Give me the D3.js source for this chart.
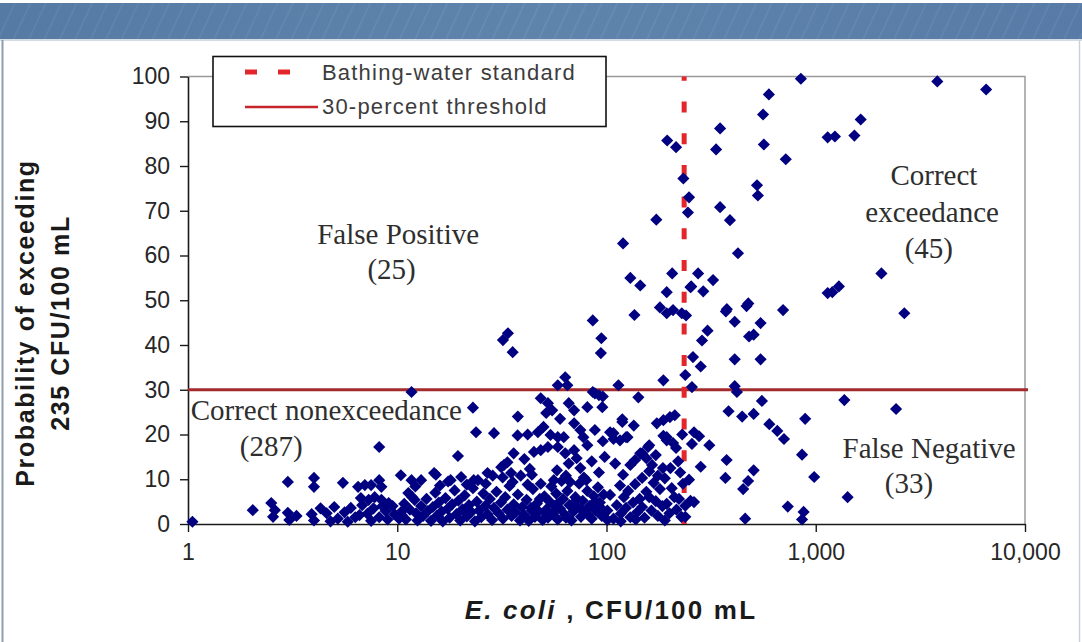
<!DOCTYPE html>
<html>
<head>
<meta charset="utf-8">
<script src="https://cdn.jsdelivr.net/npm/d3@7"></script>
<style>
    body { margin: 0; background: #ffffff; }
    svg { display: block; }
</style>
</head>
<body>
<svg id="chart" width="1082" height="642"></svg>
<script>

/**
 * Data: [E. coli (CFU/100 mL), probability of exceeding 235 CFU/100 mL (%)]
 */
var falsePositive = [
    [33.8, 42.6], [32, 41.1], [35.6, 38.4], [86, 45.5], [94.5, 41.5], [94, 38.2], [120, 62.7],
    [130, 55], [136, 46.7], [145, 53.3], [173, 68], [180, 48.4], [194, 51.8], [194, 47.1],
    [208, 47.8], [195, 85.7], [215, 84.2], [229, 47.1], [63.5, 32.8], [58.5, 31], [65, 31],
    [187, 32.1], [114, 31], [206, 56], [233, 77.2]
];

var correctExceedance = [
    [849, 99.5], [597, 96], [560, 91.5], [349, 88.4], [334, 83.7], [565, 84.8], [719, 81.5],
    [524, 75.7], [529, 73.4], [248, 73], [245, 69.6], [349, 70.8], [389, 67.9], [425, 60.5],
    [274, 56], [323, 54.5], [254, 53.1], [290, 52], [252, 52.9], [376, 48], [476, 49.3],
    [698, 47.8], [1140, 86.4], [1140, 51.6], [3810, 98.9], [6520, 97.1], [1640, 90.4],
    [1235, 86.6], [1530, 86.8], [2060, 56], [1200, 51.8], [1290, 53.1], [2650, 47.1],
    [259, 37.3], [238, 33.3], [256, 30.6], [304, 43.2], [286, 41], [372, 47.5], [410, 45.2],
    [545, 44.9], [505, 42.3], [480, 41.9], [410, 36.8], [545, 36.8], [410, 30.8], [282, 35.2],
    [240, 46.6], [467, 48.7]
];

var falseNegative = [
    [1370, 27.7], [2420, 25.7], [553, 27.5], [383, 25.2], [445, 24], [505, 24.6], [890, 23.5],
    [600, 22.3], [655, 20.8], [705, 19], [860, 15.5], [983, 10.5], [1420, 6], [735, 3.9],
    [875, 2.7], [860, 1], [460, 1.2], [375, 14.3], [370, 10.3], [450, 7.8], [475, 9.6],
    [505, 12], [282, 12.8], [262, 20.5], [277, 19.6], [310, 17.6], [256, 17.9], [248, 9.9],
    [252, 5.2], [238, 4.1], [262, 4.9], [238, 1.6], [420, 29.5]
];

var correctNonexceedance = [
    // 1 - 12
    [1.05, 0.5], [2.04, 3.1], [2.5, 4.7], [2.6, 3.1], [2.55, 1.6], [3.0, 9.4], [3.0, 2.5],
    [3.05, 0.9], [3.3, 1.8], [4.0, 10.3], [4.0, 8.3], [3.9, 2.2], [4.0, 0.8], [4.3, 3.5],
    [4.6, 2.4], [4.8, 0.6], [5.0, 3.8], [5.2, 1.2], [5.5, 9.2], [5.6, 2.6], [5.8, 0.5],
    [6.0, 3.6], [6.3, 1.5], [6.5, 8.3], [6.6, 2.0], [6.7, 5.8], [6.8, 4.2], [7.0, 8.7],
    [7.2, 2.3], [7.3, 5.4], [7.5, 8.7], [7.5, 0.7], [7.7, 3.5], [7.8, 6.0], [8.2, 1.5],
    [8.2, 9.8], [8.2, 17.2], [8.4, 8.3], [8.4, 5.4], [8.5, 4.0], [8.8, 2.9], [9.0, 1.0],
    [9.1, 4.7], [9.5, 4.0], [9.7, 2.2], [10.2, 1.2], [10.4, 10.9], [10.6, 3.0], [11.3, 6.9],
    [11.7, 9.8], [11.7, 29.5], [12.1, 5.4],
    // 10 - 40
    [10.5, 2.0], [10.8, 4.5], [11, 1.0], [11.5, 3.2], [11.8, 6.0], [12.3, 2.4], [12.5, 0.8],
    [13, 4.0], [13.3, 1.8], [13.8, 5.6], [14, 2.9], [14.5, 0.7], [14.8, 3.8], [15.2, 7.0],
    [15.5, 1.9], [15.8, 4.8], [16.3, 2.8], [16.5, 0.6], [17, 5.8], [17.4, 3.4], [17.8, 1.4],
    [18.3, 4.4], [18.8, 7.5], [19.2, 2.2], [19.6, 5.2], [20, 0.8], [20.5, 3.3], [21, 6.4],
    [21.5, 1.7], [22, 4.2], [22.6, 2.7], [23, 8.0], [23.5, 0.6], [24, 5.0], [24.6, 3.0],
    [25.2, 1.5], [25.8, 6.8], [26.4, 4.1], [27, 2.2], [27.7, 5.6], [28.4, 0.9], [29, 3.6],
    [29.8, 7.2], [30.5, 2.4], [31.3, 4.8], [32, 1.2], [32.8, 6.0], [33.6, 3.2], [34.4, 8.5],
    [35.2, 1.8], [36, 4.4], [36.8, 2.6], [37.7, 6.6], [38.6, 0.8], [39.5, 3.8],
    [13, 9.8], [15.3, 11], [17.5, 9.5], [20.2, 10.5], [23.2, 9.8], [28.6, 10.8], [31.9, 10.4],
    [35, 11.4], [38.9, 10.8], [35.6, 9.4], [15, 11.4], [18, 9.8], [24.3, 9.8], [27, 11.4],
    [31.4, 12.7], [33.6, 13.8], [36, 15.8], [19.5, 15.2], [32.4, 13.2], [23, 26], [37.7, 24],
    [23.8, 20.5], [29, 20.3], [37.6, 19.8], [16, 8.6], [21.5, 8.8], [26.5, 9], [12.2, 8.4],
    // 40 - 100
    [40.5, 2.0], [41.5, 5.4], [42.5, 0.7], [43.5, 3.6], [44.5, 7.8], [45.5, 1.6], [46.5, 4.6],
    [47.5, 2.8], [48.5, 9.0], [49.5, 0.9], [50.5, 6.2], [51.5, 3.2], [52.5, 1.4], [53.5, 5.0],
    [54.5, 8.4], [55.5, 2.4], [56.5, 4.0], [57.5, 6.8], [58.5, 1.0], [60, 3.4], [61, 9.6],
    [62, 5.6], [63.5, 2.0], [65, 7.4], [66.5, 4.2], [68, 0.8], [69.5, 2.8], [71, 6.0],
    [72.5, 3.8], [74, 9.0], [75.5, 1.6], [77, 5.2], [79, 2.6], [81, 7.4], [83, 4.0], [85, 1.2],
    [87, 6.2], [89, 3.0], [91, 8.2], [93, 4.8], [95, 1.8], [97, 6.6],
    [44, 3.0], [48, 5.6], [52, 2.2], [58, 4.4], [64, 1.4], [70, 4.8], [76, 3.2], [82, 2.0],
    [88, 5.0], [94, 3.6], [42, 8.8], [56, 9.8], [67, 9.4], [80, 9.8],
    [40.5, 14.5], [43, 12.3], [45, 16.1], [48.5, 16.5], [52.5, 17.2], [58.5, 17.2],
    [63.5, 15.8], [70, 16.5], [81, 17.6], [47, 20.5], [50, 21.7], [54, 19.9], [58.5, 19.4],
    [62.5, 19.4], [70, 22.5], [75, 21], [77.5, 19.4], [48.5, 28.1], [52.5, 27], [51.5, 24.8],
    [55, 25.4], [66, 27], [70, 25.4], [81, 26.1], [95.5, 26.1], [86, 29.5], [92, 28.8],
    [58, 12], [66, 13.5], [75, 12.5], [85, 14], [92, 11.5], [98, 15], [44, 11], [88, 21],
    [96, 18.5], [60, 23.5], [42, 20], [72, 14.7], [64, 10.8], [78, 10.4],
    // 100 - 235
    [101, 3.0], [104, 6.5], [108, 1.2], [112, 4.2], [116, 8.6], [117, 2.3], [121, 6.0],
    [124, 3.6], [127, 7.4], [130, 1.5], [134, 4.8], [137, 8.9], [140, 2.6], [144, 5.6],
    [148, 3.8], [148, 10.3], [152, 1.4], [155, 7.2], [160, 6.0], [160, 11.8], [164, 3.0],
    [168, 9.2], [172, 5.1], [176, 1.8], [180, 7.8], [185, 4.0], [190, 10.2], [194, 4.5],
    [200, 2.4], [205, 8.0], [211, 6.0], [216, 3.2], [222, 5.6], [228, 1.6], [232, 9.0],
    [117, 0.6], [96, 2.2], [101, 0.9], [138, 1.0], [190, 0.8],
    [104, 20.5], [108, 19], [124, 19.4], [119, 23.4], [108, 20.3], [116, 18.7], [126, 19.4],
    [119, 22.8], [174, 22.5], [187, 23.2], [201, 23.9], [212, 24.3], [194, 19.4], [208, 18.1],
    [158, 17.2], [145, 15.8], [137, 14.3], [130, 13.2], [160, 17.6], [148, 15.8], [155, 14.7],
    [172, 15.4], [165, 13.2], [186, 12.5], [202, 12.5], [187, 19.7], [194, 18.7], [142, 28.3],
    [88, 29.2], [96, 28.5], [120, 11], [176, 10.8], [220, 14], [225, 11.5], [230, 20],
    [110, 13.5], [135, 22], [215, 17]
];

var xTicks = [1, 10, 100, 1000, 10000];
var yTicks = [0, 10, 20, 30, 40, 50, 60, 70, 80, 90, 100];

var bathingStandard = 235;   // CFU/100 mL
var thresholdPct = 30;       // percent

var legendLabels = ["Bathing-water standard", "30-percent threshold"];
var xTitle = ["E. coli", " , CFU/100 mL"];
var yTitle = ["Probability of exceeding", "235 CFU/100 mL"];

// quadrant captions, counts as printed on the original
var labelFalsePositive = ["False Positive", "(25)"];
var labelCorrectExceedance = ["Correct", "exceedance", "(45)"];
var labelCorrectNonexceedance = ["Correct nonexceedance", "(287)"];
var labelFalseNegative = ["False Negative", "(33)"];

var svg = d3.select("#chart");

var x = d3.scaleLog().domain([1, 10000]).range([188, 1025]);
var y = d3.scaleLinear().domain([0, 100]).range([524, 76.5]);

/**
 * Slide header band across the top
 */
function drawHeader(svg) {
    var defs = svg.append("defs");

    var grad = defs.append("linearGradient")
        .attr("id", "band")
        .attr("x1", 0).attr("x2", 1).attr("y1", 0).attr("y2", 0);
    grad.append("stop").attr("offset", "0%").attr("stop-color", "#557aa4");
    grad.append("stop").attr("offset", "50%").attr("stop-color", "#5f84ac");
    grad.append("stop").attr("offset", "100%").attr("stop-color", "#577ba6");

    var pat = defs.append("pattern")
        .attr("id", "rain")
        .attr("width", 14).attr("height", 14)
        .attr("patternUnits", "userSpaceOnUse")
        .attr("patternTransform", "rotate(25)");
    pat.append("line")
        .attr("x1", 0).attr("y1", 0).attr("x2", 0).attr("y2", 14)
        .attr("stroke", "#ffffff").attr("stroke-opacity", 0.07).attr("stroke-width", 3);

    svg.append("rect")
        .attr("x", 0).attr("y", 3).attr("width", 1082).attr("height", 36)
        .attr("fill", "url(#band)");
    svg.append("rect")
        .attr("x", 0).attr("y", 3).attr("width", 1082).attr("height", 36)
        .attr("fill", "url(#rain)");

    svg.append("rect")
        .attr("x", 0).attr("y", 39).attr("width", 1082).attr("height", 2)
        .attr("fill", "#d3dce6");

    // side rules of the slide frame
    svg.append("line")
        .attr("x1", 2.5).attr("x2", 2.5).attr("y1", 40).attr("y2", 642)
        .attr("stroke", "#8f9cab").attr("stroke-width", 2);
    svg.append("line")
        .attr("x1", 1079.5).attr("x2", 1079.5).attr("y1", 40).attr("y2", 642)
        .attr("stroke", "#c9d1da").attr("stroke-width", 1.5);
}

/**
 * Axes, tick labels, plot frame
 */
function drawAxes(svg) {
    // frame top and right
    svg.append("path")
        .attr("d", "M" + x(1) + "," + y(100) + "H" + x(10000) + "V" + y(0))
        .attr("fill", "none")
        .attr("stroke", "#9a9a9a")
        .attr("stroke-width", 1.5);

    var gx = svg.append("g")
        .attr("transform", "translate(0," + y(0) + ")")
        .call(d3.axisBottom(x)
            .tickValues(xTicks)
            .tickFormat(d3.format(","))
            .tickSize(8)
            .tickSizeOuter(0)
            .tickPadding(12));

    var gy = svg.append("g")
        .attr("transform", "translate(" + x(1) + ",0)")
        .call(d3.axisLeft(y)
            .tickValues(yTicks)
            .tickFormat(d3.format("d"))
            .tickSize(8)
            .tickSizeOuter(0)
            .tickPadding(10));

    [gx, gy].forEach(function (g) {
        g.select(".domain").attr("stroke", "#1a1a1a").attr("stroke-width", 1.6);
        g.selectAll(".tick line").attr("stroke", "#1a1a1a").attr("stroke-width", 1.4);
        g.selectAll(".tick text")
            .style("font-family", "'Liberation Sans', Arial, sans-serif")
            .style("font-size", "23px")
            .style("fill", "#262626");
    });

    // x title
    var xt = svg.append("text")
        .attr("x", 611)
        .attr("y", 619)
        .attr("text-anchor", "middle")
        .style("font-family", "'Liberation Sans', Arial, sans-serif")
        .style("font-size", "26px")
        .style("font-weight", "bold")
        .style("letter-spacing", "2.2px")
        .style("fill", "#1a1a1a");
    xt.append("tspan").style("font-style", "italic").text(xTitle[0]);
    xt.append("tspan").text(xTitle[1]);

    // y title, two lines
    svg.selectAll(".ytitle")
        .data(yTitle)
        .enter()
        .append("text")
        .attr("class", "ytitle")
        .attr("transform", function (d, i) { return "translate(" + (34 + i * 35) + ",323) rotate(-90)"; })
        .attr("text-anchor", "middle")
        .style("font-family", "'Liberation Sans', Arial, sans-serif")
        .style("font-size", "25px")
        .style("font-weight", "bold")
        .style("letter-spacing", "1.6px")
        .style("fill", "#1a1a1a")
        .text(function (d) { return d; });
}

/**
 * Reference lines: bathing-water standard and 30-percent threshold
 */
function drawReferenceLines(svg) {
    svg.append("line")
        .attr("x1", x(1)).attr("x2", x(10000) + 3)
        .attr("y1", y(thresholdPct)).attr("y2", y(thresholdPct))
        .attr("stroke", "#a42b2d")
        .attr("stroke-width", 3);

    svg.append("line")
        .attr("x1", x(bathingStandard)).attr("x2", x(bathingStandard))
        .attr("y1", y(100)).attr("y2", y(0))
        .attr("stroke", "#e3262b")
        .attr("stroke-width", 5)
        .attr("stroke-dasharray", "11,20.7")
        .attr("stroke-dashoffset", 6.7);
}

/**
 * Draw the diamonds
 */
function drawPoints(svg, data) {
    var diamond = d3.symbol().type(d3.symbolSquare).size(74);

    svg.append("g")
        .attr("class", "points")
        .selectAll("path")
        .data(data)
        .enter()
        .append("path")
        .attr("d", diamond)
        .attr("transform", function (d) {
            return "translate(" + x(d[0]) + "," + y(d[1]) + ") rotate(45)";
        })
        .attr("fill", "#000080");
}

/**
 * Legend box in the upper left
 */
function drawLegend(svg) {
    var g = svg.append("g").attr("class", "legend");

    g.append("rect")
        .attr("x", 213).attr("y", 56.5)
        .attr("width", 393).attr("height", 70)
        .attr("fill", "#ffffff")
        .attr("stroke", "#111111")
        .attr("stroke-width", 1.6);

    g.append("line")
        .attr("x1", 245).attr("x2", 294)
        .attr("y1", 72).attr("y2", 72)
        .attr("stroke", "#e3262b")
        .attr("stroke-width", 5)
        .attr("stroke-dasharray", "12,21");

    g.append("line")
        .attr("x1", 245).attr("x2", 318)
        .attr("y1", 107).attr("y2", 107)
        .attr("stroke", "#c4262c")
        .attr("stroke-width", 2.5);

    g.selectAll("text")
        .data(legendLabels)
        .enter()
        .append("text")
        .attr("x", 322)
        .attr("y", function (d, i) { return 80 + i * 34; })
        .style("font-family", "'Liberation Sans', Arial, sans-serif")
        .style("font-size", "22px")
        .style("letter-spacing", "1.2px")
        .style("fill", "#3c3c3c")
        .text(function (d) { return d; });
}

/**
 * Quadrant labels with their counts
 */
function drawQuadrantLabels(svg) {
    var blocks = [
        { lines: labelFalsePositive, at: [[10.1, 62.6], [9.4, 54.7]], anchor: ["middle", "middle"] },
        { lines: labelCorrectExceedance, at: [[3670, 75.8], [3600, 67.5], [3470, 59.4]], anchor: ["middle", "middle", "middle"] },
        { lines: labelCorrectNonexceedance, at: [[1.03, 23.2], [2.5, 15.2]], anchor: ["start", "middle"] },
        { lines: labelFalseNegative, at: [[3480, 14.7], [2790, 6.9]], anchor: ["middle", "middle"] }
    ];

    blocks.forEach(function (b) {
        b.lines.forEach(function (line, i) {
            svg.append("text")
                .attr("x", x(b.at[i][0]))
                .attr("y", y(b.at[i][1]))
                .attr("text-anchor", b.anchor[i])
                .style("font-family", "'Liberation Serif', 'Times New Roman', serif")
                .style("font-size", "29px")
                .style("fill", "#2e2e2e")
                .text(line);
        });
    });
}

drawHeader(svg);
drawAxes(svg);
drawReferenceLines(svg);
drawPoints(svg, correctNonexceedance.concat(falsePositive, correctExceedance, falseNegative));
drawLegend(svg);
drawQuadrantLabels(svg);

</script>
</body>
</html>
